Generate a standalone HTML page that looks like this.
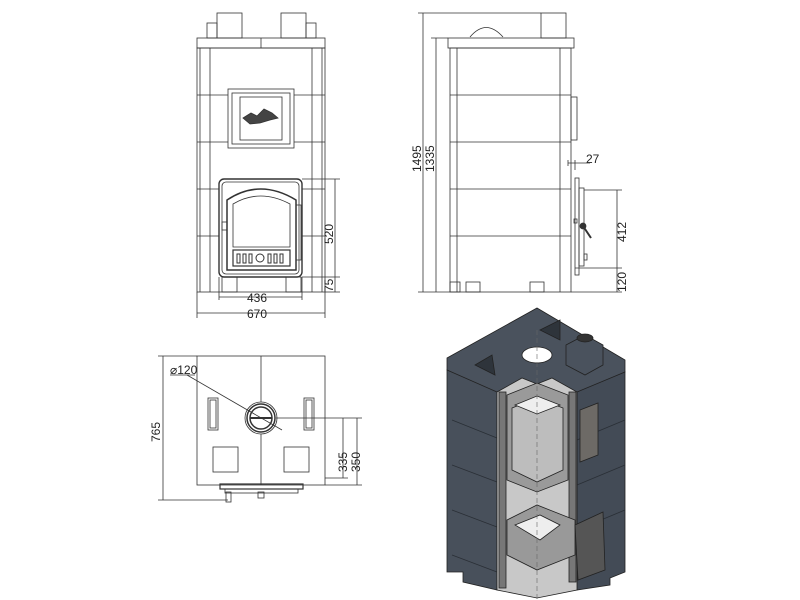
<!DOCTYPE html>
<html><head><meta charset="utf-8"><style>
html,body{margin:0;padding:0;background:#fff;}
svg{display:block;font-family:"Liberation Sans",sans-serif;}
</style></head><body>
<svg width="800" height="600" viewBox="0 0 800 600" xmlns="http://www.w3.org/2000/svg">
<g fill="none" stroke="#333" stroke-width="0.8">
<!-- FRONT VIEW -->
<rect x="217" y="13" width="25" height="25"/><rect x="281" y="13" width="25" height="25"/>
<rect x="207" y="23" width="10" height="15"/><rect x="306" y="23" width="10" height="15"/>
<rect x="197" y="38" width="128" height="10"/><line x1="261" y1="38" x2="261" y2="48"/>
<rect x="197" y="48" width="128" height="244"/>
<line x1="200" y1="48" x2="200" y2="292"/><line x1="210" y1="48" x2="210" y2="292"/>
<line x1="312" y1="48" x2="312" y2="292"/><line x1="322" y1="48" x2="322" y2="292"/>
<line x1="197" y1="95" x2="325" y2="95"/><line x1="197" y1="142" x2="325" y2="142"/>
<line x1="197" y1="189" x2="219" y2="189"/><line x1="302" y1="189" x2="325" y2="189"/>
<line x1="197" y1="236" x2="219" y2="236"/><line x1="302" y1="236" x2="325" y2="236"/>
<rect x="228" y="89" width="66" height="59" fill="#fff"/><rect x="232" y="93" width="58" height="51"/>
<rect x="240" y="97" width="42" height="43"/>
<path d="M243 118 l8 -5 l6 3 l7 -7 l8 4 l6 5 l-8 2 l-10 3 l-10 1 z" fill="#444"/>
<rect x="219" y="179" width="83" height="98" rx="5" stroke-width="1.4" fill="#fff"/>
<rect x="222" y="182" width="77" height="92" rx="4"/>
<path d="M227 270 V200 Q260 178 296 200 V270 Z" stroke-width="1.5"/>
<path d="M233 247 V204 Q260 188 290 204 V247 Z"/>
<rect x="233" y="250" width="57" height="16" stroke-width="1.2"/>
<g stroke-width="1"><rect x="237" y="254" width="3" height="9"/><rect x="243" y="254" width="3" height="9"/><rect x="249" y="254" width="3" height="9"/><circle cx="260" cy="258" r="4"/><rect x="268" y="254" width="3" height="9"/><rect x="274" y="254" width="3" height="9"/><rect x="280" y="254" width="3" height="9"/></g>
<rect x="222" y="222" width="5" height="8"/><rect x="296" y="205" width="5" height="55"/>
<rect x="222" y="277" width="15" height="15"/><rect x="286" y="277" width="15" height="15"/>
<line x1="302" y1="179" x2="340" y2="179"/><line x1="302" y1="277" x2="340" y2="277"/><line x1="325" y1="292" x2="340" y2="292"/>
<line x1="335" y1="179" x2="335" y2="292"/>
<line x1="219" y1="277" x2="219" y2="300"/><line x1="302" y1="277" x2="302" y2="300"/>
<line x1="219" y1="297" x2="302" y2="297"/>
<line x1="197" y1="292" x2="197" y2="318"/><line x1="325" y1="292" x2="325" y2="318"/>
<line x1="197" y1="313" x2="325" y2="313"/>

<!-- SIDE VIEW -->
<path d="M470 37 Q486 18 503 37"/>
<rect x="541" y="13" width="25" height="25"/>
<rect x="448" y="38" width="126" height="10"/>
<rect x="450" y="48" width="121" height="244"/>
<line x1="457" y1="48" x2="457" y2="292"/><line x1="560" y1="48" x2="560" y2="292"/>
<line x1="450" y1="95" x2="571" y2="95"/><line x1="450" y1="142" x2="571" y2="142"/>
<line x1="450" y1="189" x2="571" y2="189"/><line x1="450" y1="236" x2="571" y2="236"/>
<rect x="571" y="97" width="6" height="43"/>
<rect x="450" y="282" width="10" height="10"/><rect x="466" y="282" width="14" height="10"/>
<rect x="530" y="282" width="14" height="10"/>
<rect x="575" y="178" width="4" height="97"/><rect x="579" y="188" width="5" height="78"/>
<path d="M583 226 l8 12" stroke-width="2"/><circle cx="583" cy="226" r="3" fill="#333"/>
<rect x="574" y="219" width="3" height="4"/><rect x="584" y="254" width="3" height="6"/>
<line x1="418" y1="13" x2="541" y2="13"/><line x1="423" y1="13" x2="423" y2="292"/>
<line x1="431" y1="38" x2="448" y2="38"/><line x1="436" y1="38" x2="436" y2="292"/>
<line x1="418" y1="292" x2="450" y2="292"/>
<line x1="568" y1="163" x2="590" y2="163"/><line x1="568" y1="160" x2="568" y2="166"/><line x1="575" y1="160" x2="575" y2="170"/>
<line x1="584" y1="190" x2="622" y2="190"/><line x1="575" y1="268" x2="622" y2="268"/><line x1="571" y1="292" x2="622" y2="292"/>
<line x1="617" y1="190" x2="617" y2="292"/>

<!-- TOP VIEW -->
<rect x="197" y="356" width="128" height="129"/><line x1="261" y1="356" x2="261" y2="485"/>
<rect x="208" y="398" width="10" height="32"/><rect x="210" y="400" width="6" height="28"/>
<rect x="304" y="398" width="10" height="32"/><rect x="306" y="400" width="6" height="28"/>
<rect x="213" y="447" width="25" height="25"/><rect x="284" y="447" width="25" height="25"/>
<circle cx="261" cy="418" r="16" fill="#fff"/><circle cx="261" cy="418" r="14" stroke-width="1.5"/><circle cx="261" cy="418" r="11" stroke-width="1.5"/>
<line x1="250" y1="418" x2="272" y2="418" stroke-width="2"/>
<line x1="170" y1="375" x2="195" y2="375"/><line x1="187" y1="375" x2="282" y2="430"/>
<rect x="220" y="484" width="83" height="5" stroke-width="1.2"/><rect x="225" y="489" width="73" height="4"/>
<rect x="226" y="492" width="5" height="10"/><rect x="258" y="492" width="6" height="6"/>
<line x1="158" y1="356" x2="197" y2="356"/><line x1="163" y1="356" x2="163" y2="500"/><line x1="158" y1="500" x2="228" y2="500"/>
<line x1="276" y1="418" x2="362" y2="418"/><line x1="325" y1="478" x2="348" y2="478"/><line x1="325" y1="485" x2="362" y2="485"/>
<line x1="343" y1="418" x2="343" y2="478"/><line x1="357" y1="418" x2="357" y2="485"/>
</g>
<g font-size="12" fill="#222">
<text x="247" y="302">436</text><text x="247" y="318">670</text>
<text transform="translate(333,244) rotate(-90)">520</text>
<text transform="translate(333,292) rotate(-90)">75</text>
<text transform="translate(421,172) rotate(-90)">1495</text>
<text transform="translate(434,172) rotate(-90)">1335</text>
<text x="586" y="163">27</text>
<text transform="translate(626,242) rotate(-90)">412</text>
<text transform="translate(626,292) rotate(-90)">120</text>
<text x="170" y="374">⌀120</text>
<text transform="translate(160,442) rotate(-90)">765</text>
<text transform="translate(347,472) rotate(-90)">335</text>
<text transform="translate(360,472) rotate(-90)">350</text>
</g>

<!-- 3D VIEW -->
<g stroke="#222" stroke-width="0.8">
<polygon points="447,358 537,308 625,360 625,372 537,420 447,370" fill="#4a525d"/>
<polygon points="447,370 497,392 497,590 463,582 463,572 447,572" fill="#48505b"/>
<polygon points="577,392 625,372 625,572 610,578 610,585 577,590" fill="#434b56"/>
<g fill="none" stroke="#2a2f36"><line x1="452" y1="420" x2="497" y2="438"/><line x1="452" y1="465" x2="497" y2="482"/><line x1="452" y1="510" x2="497" y2="527"/><line x1="452" y1="555" x2="497" y2="572"/>
<line x1="577" y1="440" x2="625" y2="420"/><line x1="577" y1="485" x2="625" y2="465"/><line x1="577" y1="530" x2="625" y2="510"/></g>
<polygon points="497,392 522,378 537,384 552,378 577,392 577,590 537,598 497,590" fill="#c8c8c8"/>
<rect x="499" y="392" width="7" height="196" fill="#777"/>
<rect x="569" y="392" width="7" height="190" fill="#777"/>
<polygon points="507,395 537,383 568,395 568,480 537,492 507,480" fill="#9a9a9a"/>
<polygon points="512,408 537,398 563,408 563,470 537,482 512,470" fill="#bdbdbd"/>
<polygon points="515,405 537,396 560,405 537,414" fill="#eee"/>
<polygon points="507,520 537,505 575,520 575,555 537,570 507,555" fill="#999"/>
<polygon points="515,525 540,515 560,525 540,540" fill="#eee"/>
<polygon points="575,525 603,512 605,570 578,580" fill="#555"/>
<polygon points="580,410 598,403 598,455 580,462" fill="#6d6a66"/>
<ellipse cx="537" cy="355" rx="15" ry="8" fill="#fff"/>
<polygon points="566,345 585,335 603,345 603,365 585,375 566,365" fill="#4a525d"/>
<ellipse cx="585" cy="338" rx="8" ry="4" fill="#333"/>
<polygon points="475,365 492,355 495,375" fill="#2e343b"/><polygon points="540,330 560,320 560,340" fill="#2e343b"/>
</g>
<line x1="537" y1="330" x2="537" y2="600" stroke="#666" stroke-width="0.6" stroke-dasharray="5,3"/>
</svg>
</body></html>
